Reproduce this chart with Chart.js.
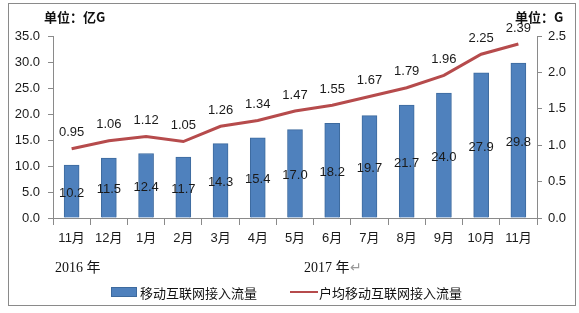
<!DOCTYPE html>
<html>
<head>
<meta charset="utf-8">
<script src="https://cdn.jsdelivr.net/npm/chart.js@4"></script>
<style>
    body { margin: 0; background: #fff; }
    .wrap { position: relative; width: 579px; height: 313px; font-family: 'Liberation Sans', 'Noto Sans CJK SC', sans-serif; }
    .frame { position: absolute; left: 8px; top: 3px; width: 566px; height: 301px; border: 1px solid #8a8a8a; }
    canvas { position: absolute; left: 0; top: 0; }
    .unit { position: absolute; top: 7px; font-weight: bold; font-size: 13px; color: #111; font-family: 'Noto Sans CJK SC', sans-serif; }
    .year { position: absolute; top: 256px; font-size: 14px; color: #111; font-family: 'Liberation Serif', 'Noto Sans CJK SC', serif; }
    .legend { position: absolute; top: 283px; font-size: 13px; color: #111; font-family: 'Noto Sans CJK SC', sans-serif; }
    .legend span { position: absolute; white-space: nowrap; }
</style>
</head>
<body>
<div class="wrap">
    <div class="frame"></div>
    <canvas id="chart" width="579" height="313"></canvas>
    <div class="unit" style="left:44px">单位：亿G</div>
    <div class="unit" style="left:515px">单位：G</div>
    <div class="year" style="left:55px">2016 年</div>
    <div class="year" style="left:304px">2017 年<span style="color:#999">↵</span></div>
    <div class="legend">
        <span style="left:111px;top:4px;width:26px;height:10px;background:#4f81bd;border:1px solid #3d6a9e;box-sizing:border-box"></span>
        <span style="left:140px;top:0">移动互联网接入流量</span>
        <span style="left:290px;top:8px;width:28px;height:2px;background:#b64b4c"></span>
        <span style="left:319px;top:0">户均移动互联网接入流量</span>
    </div>
</div>
<script>
const MONTHS = ['11月', '12月', '1月', '2月', '3月', '4月', '5月', '6月', '7月', '8月', '9月', '10月', '11月'];
const TRAFFIC = [10.2, 11.5, 12.4, 11.7, 14.3, 15.4, 17.0, 18.2, 19.7, 21.7, 24.0, 27.9, 29.8];
const PER_USER = [0.95, 1.06, 1.12, 1.05, 1.26, 1.34, 1.47, 1.55, 1.67, 1.79, 1.96, 2.25, 2.39];

const AXIS_COLOR = '#8a8a8a';
const TEXT_COLOR = '#1a1a1a';

// draw value labels: bars centered, line values above points
const valueLabels = {
    id: 'valueLabels',
    afterDatasetsDraw(chart) {
        const ctx = chart.ctx;
        ctx.save();
        ctx.fillStyle = TEXT_COLOR;
        ctx.font = '13px "Liberation Sans", sans-serif';
        ctx.textAlign = 'center';
        ctx.textBaseline = 'middle';
        chart.data.datasets.forEach((ds, i) => {
            const meta = chart.getDatasetMeta(i);
            meta.data.forEach((el, j) => {
                const v = ds.data[j];
                if (ds.type === 'bar') {
                    ctx.fillText(v.toFixed(1), el.x, (el.y + el.base) / 2 + 2);
                } else {
                    ctx.fillText(v.toFixed(2), el.x, el.y - 16);
                }
            });
        });
        ctx.restore();
    }
};

new Chart(document.getElementById('chart'), {
    data: {
        labels: MONTHS,
        datasets: [
            {
                type: 'line',
                label: '户均移动互联网接入流量',
                data: PER_USER,
                yAxisID: 'y1',
                borderColor: '#b64b4c',
                borderWidth: 3,
                pointRadius: 0,
                tension: 0,
                order: 0
            },
            {
                type: 'bar',
                label: '移动互联网接入流量',
                data: TRAFFIC,
                yAxisID: 'y',
                backgroundColor: '#4f81bd',
                borderColor: '#3d6a9e',
                borderWidth: 1,
                barThickness: 15,
                order: 1
            }
        ]
    },
    options: {
        responsive: false,
        animation: false,
        layout: { padding: { top: 36, bottom: 65, left: 0, right: 0 } },
        plugins: { legend: { display: false }, tooltip: { enabled: false } },
        scales: {
            x: {
                grid: { drawOnChartArea: false, color: AXIS_COLOR, tickLength: 7, offset: true },
                border: { color: AXIS_COLOR },
                ticks: { color: TEXT_COLOR, padding: 6, maxRotation: 0, autoSkip: false,
                    font: { size: 13, family: '"Liberation Sans", "Noto Sans CJK SC", sans-serif' } },
                afterFit(scale) { scale.height = 30; }
            },
            y: {
                position: 'left',
                min: 0, max: 35,
                grid: { drawOnChartArea: false, color: AXIS_COLOR, tickLength: 5 },
                border: { color: AXIS_COLOR },
                ticks: { stepSize: 5, color: TEXT_COLOR, padding: 8,
                    font: { size: 13, family: '"Liberation Sans", sans-serif' },
                    callback: v => v.toFixed(1) },
                afterFit(scale) { scale.width = 53; }
            },
            y1: {
                position: 'right',
                min: 0, max: 2.5,
                grid: { drawOnChartArea: false, color: AXIS_COLOR, tickLength: 5 },
                border: { color: AXIS_COLOR },
                ticks: { stepSize: 0.5, color: TEXT_COLOR, padding: 6,
                    font: { size: 13, family: '"Liberation Sans", sans-serif' },
                    callback: v => v.toFixed(1) },
                afterFit(scale) { scale.width = 42; }
            }
        }
    },
    plugins: [valueLabels]
});
</script>
</body>
</html>
